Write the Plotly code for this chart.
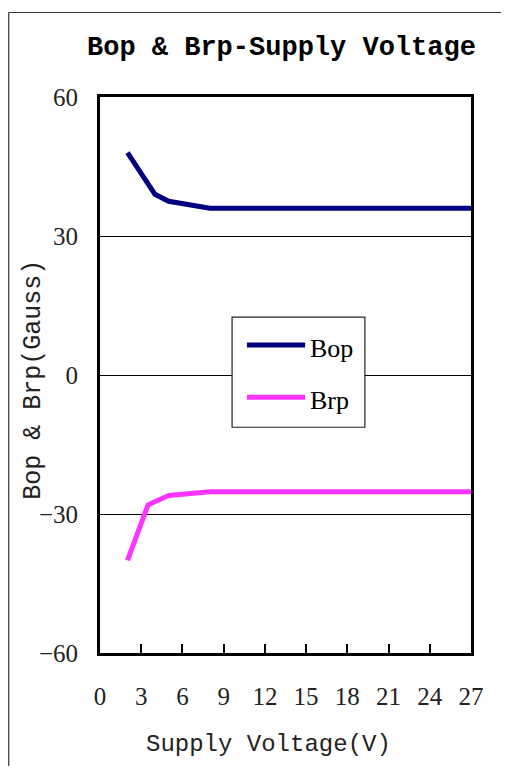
import plotly.graph_objects as go

# Data
bop_v = [2, 4, 5, 8, 27]
bop_g = [48, 39, 37.5, 36, 36]
brp_v = [2, 3.5, 5, 8, 27]
brp_g = [-40, -28, -26, -25.2, -25.2]
series_names = ["Bop", "Brp"]
x_ticks = [0, 3, 6, 9, 12, 15, 18, 21, 24, 27]
y_ticks = [-60, -30, 0, 30, 60]
title_text = "Bop & Brp-Supply Voltage"
x_title = "Supply Voltage(V)"
y_title = "Bop & Brp(Gauss)"

colors = ["#000080", "#ff33ff"]
mono = "Liberation Mono"
serif = "Liberation Serif"

fig = go.Figure()
fig.add_trace(go.Scatter(x=bop_v, y=bop_g, mode="lines", name=series_names[0],
                         line=dict(color=colors[0], width=5), showlegend=False))
fig.add_trace(go.Scatter(x=brp_v, y=brp_g, mode="lines", name=series_names[1],
                         line=dict(color=colors[1], width=5), showlegend=False))

shapes = []
annotations = []
# outer frame: only left and top edges are visible in the reference
shapes.append(dict(type="line", xref="paper", yref="paper",
                   x0=-0.246, x1=-0.246, y0=-0.4, y1=1.152,
                   line=dict(color="#333333", width=1.2), layer="below"))
shapes.append(dict(type="line", xref="paper", yref="paper",
                   x0=-0.246, x1=1.4, y0=1.152, y1=1.152,
                   line=dict(color="#333333", width=1.2), layer="below"))
# manual legend box
shapes.append(dict(type="rect", xref="paper", yref="paper",
                   x0=0.356, x1=0.714, y0=0.406, y1=0.604,
                   line=dict(color="#222222", width=1.2), fillcolor="white", layer="above"))
leg_y = [0.554, 0.460]
for name, c, ly in zip(series_names, colors, leg_y):
    shapes.append(dict(type="line", xref="paper", yref="paper",
                       x0=0.396, x1=0.553, y0=ly, y1=ly,
                       line=dict(color=c, width=5), layer="above"))
    annotations.append(dict(text=name, xref="paper", yref="paper", x=0.56, y=ly - 0.006,
                            xanchor="left", yanchor="middle", showarrow=False,
                            font=dict(family=serif, size=26, color="black")))

annotations.append(dict(text="<b>" + title_text.replace("&", "&amp;") + "</b>", xref="paper", yref="paper",
                        x=0.488, y=1.088, xanchor="center", yanchor="middle", showarrow=False,
                        font=dict(family=mono, size=27, color="black")))
annotations.append(dict(text=x_title, xref="paper", yref="paper",
                        x=0.453, y=-0.165, xanchor="center", yanchor="middle", showarrow=False,
                        font=dict(family=mono, size=24, color="#222222")))
annotations.append(dict(text=y_title.replace("&", "&amp;"), xref="paper", yref="paper",
                        x=-0.181, y=0.491, xanchor="center", yanchor="middle", showarrow=False,
                        textangle=-90,
                        font=dict(family=mono, size=25, color="#222222")))

fig.update_layout(
    width=493, height=758,
    margin=dict(l=92, r=30, t=89, b=113, autoexpand=False),
    paper_bgcolor="white", plot_bgcolor="white",
    shapes=shapes, annotations=annotations,
    showlegend=False,
)
fig.update_xaxes(range=[0, 27], tickvals=x_ticks, ticktext=[str(t) for t in x_ticks],
                 showgrid=False, zeroline=False,
                 showline=True, mirror=True, linecolor="black", linewidth=3,
                 ticks="inside", ticklen=9, tickwidth=2, tickcolor="black",
                 ticklabelstandoff=19,
                 tickfont=dict(family=serif, size=25, color="#222222"))
fig.update_yaxes(range=[-60, 60], tickvals=y_ticks, ticktext=[str(t).replace("-", "−") for t in y_ticks],
                 showgrid=True, gridcolor="black", gridwidth=1, zeroline=False,
                 showline=True, mirror=True, linecolor="black", linewidth=3,
                 ticks="", ticklabelstandoff=14,
                 tickfont=dict(family=serif, size=25, color="#222222"))

fig.write_html("out.html")
